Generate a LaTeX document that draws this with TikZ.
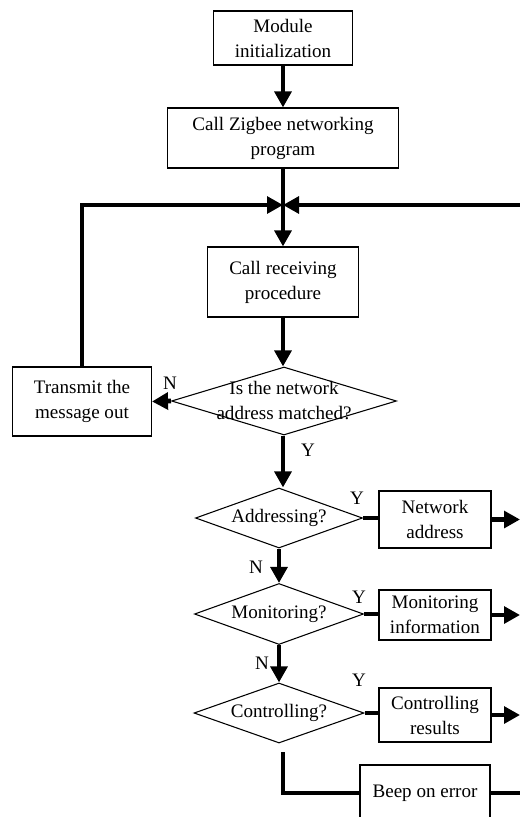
\documentclass[tikz,border=0pt]{standalone}
\usepackage{fontspec}
\setmainfont{Liberation Serif}
\usetikzlibrary{shapes.geometric,arrows.meta}
\begin{document}
\begin{tikzpicture}[x=0.75pt,y=-0.75pt,
  font=\fontsize{14.3}{18.75}\selectfont,
  procbox/.style={draw,line width=0.8pt,align=center,inner sep=0pt},
  decision/.style={draw,diamond,line width=0.8pt,inner sep=0pt},
  flow/.style={line width=3.6pt,-{Triangle[length=12pt,width=12.5pt]}},
  link/.style={line width=3.6pt}]
\useasboundingbox (0,0) rectangle (520,817);
% boxes of the main column
\node [procbox,minimum width=104.25pt,minimum height=40.5pt] (init) at (283,38) {Module\\initialization};
\node [procbox,minimum width=173.25pt,minimum height=45pt] (zigbee) at (283,138) {Call Zigbee networking\\program};
\node [procbox,minimum width=113.25pt,minimum height=52.5pt] (recv) at (283,282) {Call receiving\\procedure};
\node [procbox,minimum width=104.25pt,minimum height=51.75pt] (trans) at (82,401.5) {Transmit the\\message out};
% decisions
\node [decision,minimum width=168.75pt,minimum height=51pt,label={[align=center]center:Is the network\\address matched?}] (match) at (284,401) {};
\node [decision,minimum width=125.25pt,minimum height=45pt,label={center:Addressing?}] (addr) at (279,518) {};
\node [decision,minimum width=126.75pt,minimum height=45.75pt,label={center:Monitoring?}] (moni) at (279,614) {};
\node [decision,minimum width=127.5pt,minimum height=45pt,label={center:Controlling?}] (ctrl) at (279,713) {};
% result boxes
\node [procbox,minimum width=84pt,minimum height=42.75pt] (netaddr) at (435,519.5) {Network\\address};
\node [procbox,minimum width=84pt,minimum height=37.5pt] (moninfo) at (435,615) {Monitoring\\information};
\node [procbox,minimum width=84pt,minimum height=40.5pt] (ctrlres) at (435,715) {Controlling\\results};
\node [procbox,minimum width=97.5pt,minimum height=42pt] (beep) at (425,793) {Beep on error};
% Y / N marks
\node (nTrans) at (170,383) {N};
\node (yMatch) at (308,450) {Y};
\node (yAddr) at (357,498) {Y};
\node (nAddr) at (256,567) {N};
\node (yMoni) at (359,597) {Y};
\node (nMoni) at (262,663) {N};
\node (yCtrl) at (359,680) {Y};
% free ends
\coordinate (jn) at (283,205);
\coordinate (loopR) at (520,205);
\coordinate (edgeR) at (520,0);
\coordinate (cstart) at (283,752);
% connectors
\draw [flow] (init) -- (zigbee);
\draw [link] (zigbee.south) -- (jn);
\draw [flow] (jn) -- (recv.north);
\draw [flow] (trans.north) |- (jn);
\draw [flow] (loopR) -- (jn);
\draw [flow] (recv.south) -- (recv.south |- match.north);
\draw [flow] (match.west) -- (trans.east);
\draw [flow] (recv.south |- match.south) -- (recv.south |- addr.north);
\draw [link] (addr.east) -- (addr.east -| netaddr.west);
\draw [flow] (netaddr.east) -- (netaddr.east -| edgeR);
\draw [flow] (addr.south) -- (moni.north);
\draw [link] (moni.east) -- (moni.east -| moninfo.west);
\draw [flow] (moninfo.east) -- (moninfo.east -| edgeR);
\draw [flow] (moni.south) -- (ctrl.north);
\draw [link] (ctrl.east) -- (ctrl.east -| ctrlres.west);
\draw [flow] (ctrlres.east) -- (ctrlres.east -| edgeR);
\draw [link] (cstart) |- (beep.west);
\draw [link] (beep.east) -- (beep.east -| edgeR);
\end{tikzpicture}
\end{document}
